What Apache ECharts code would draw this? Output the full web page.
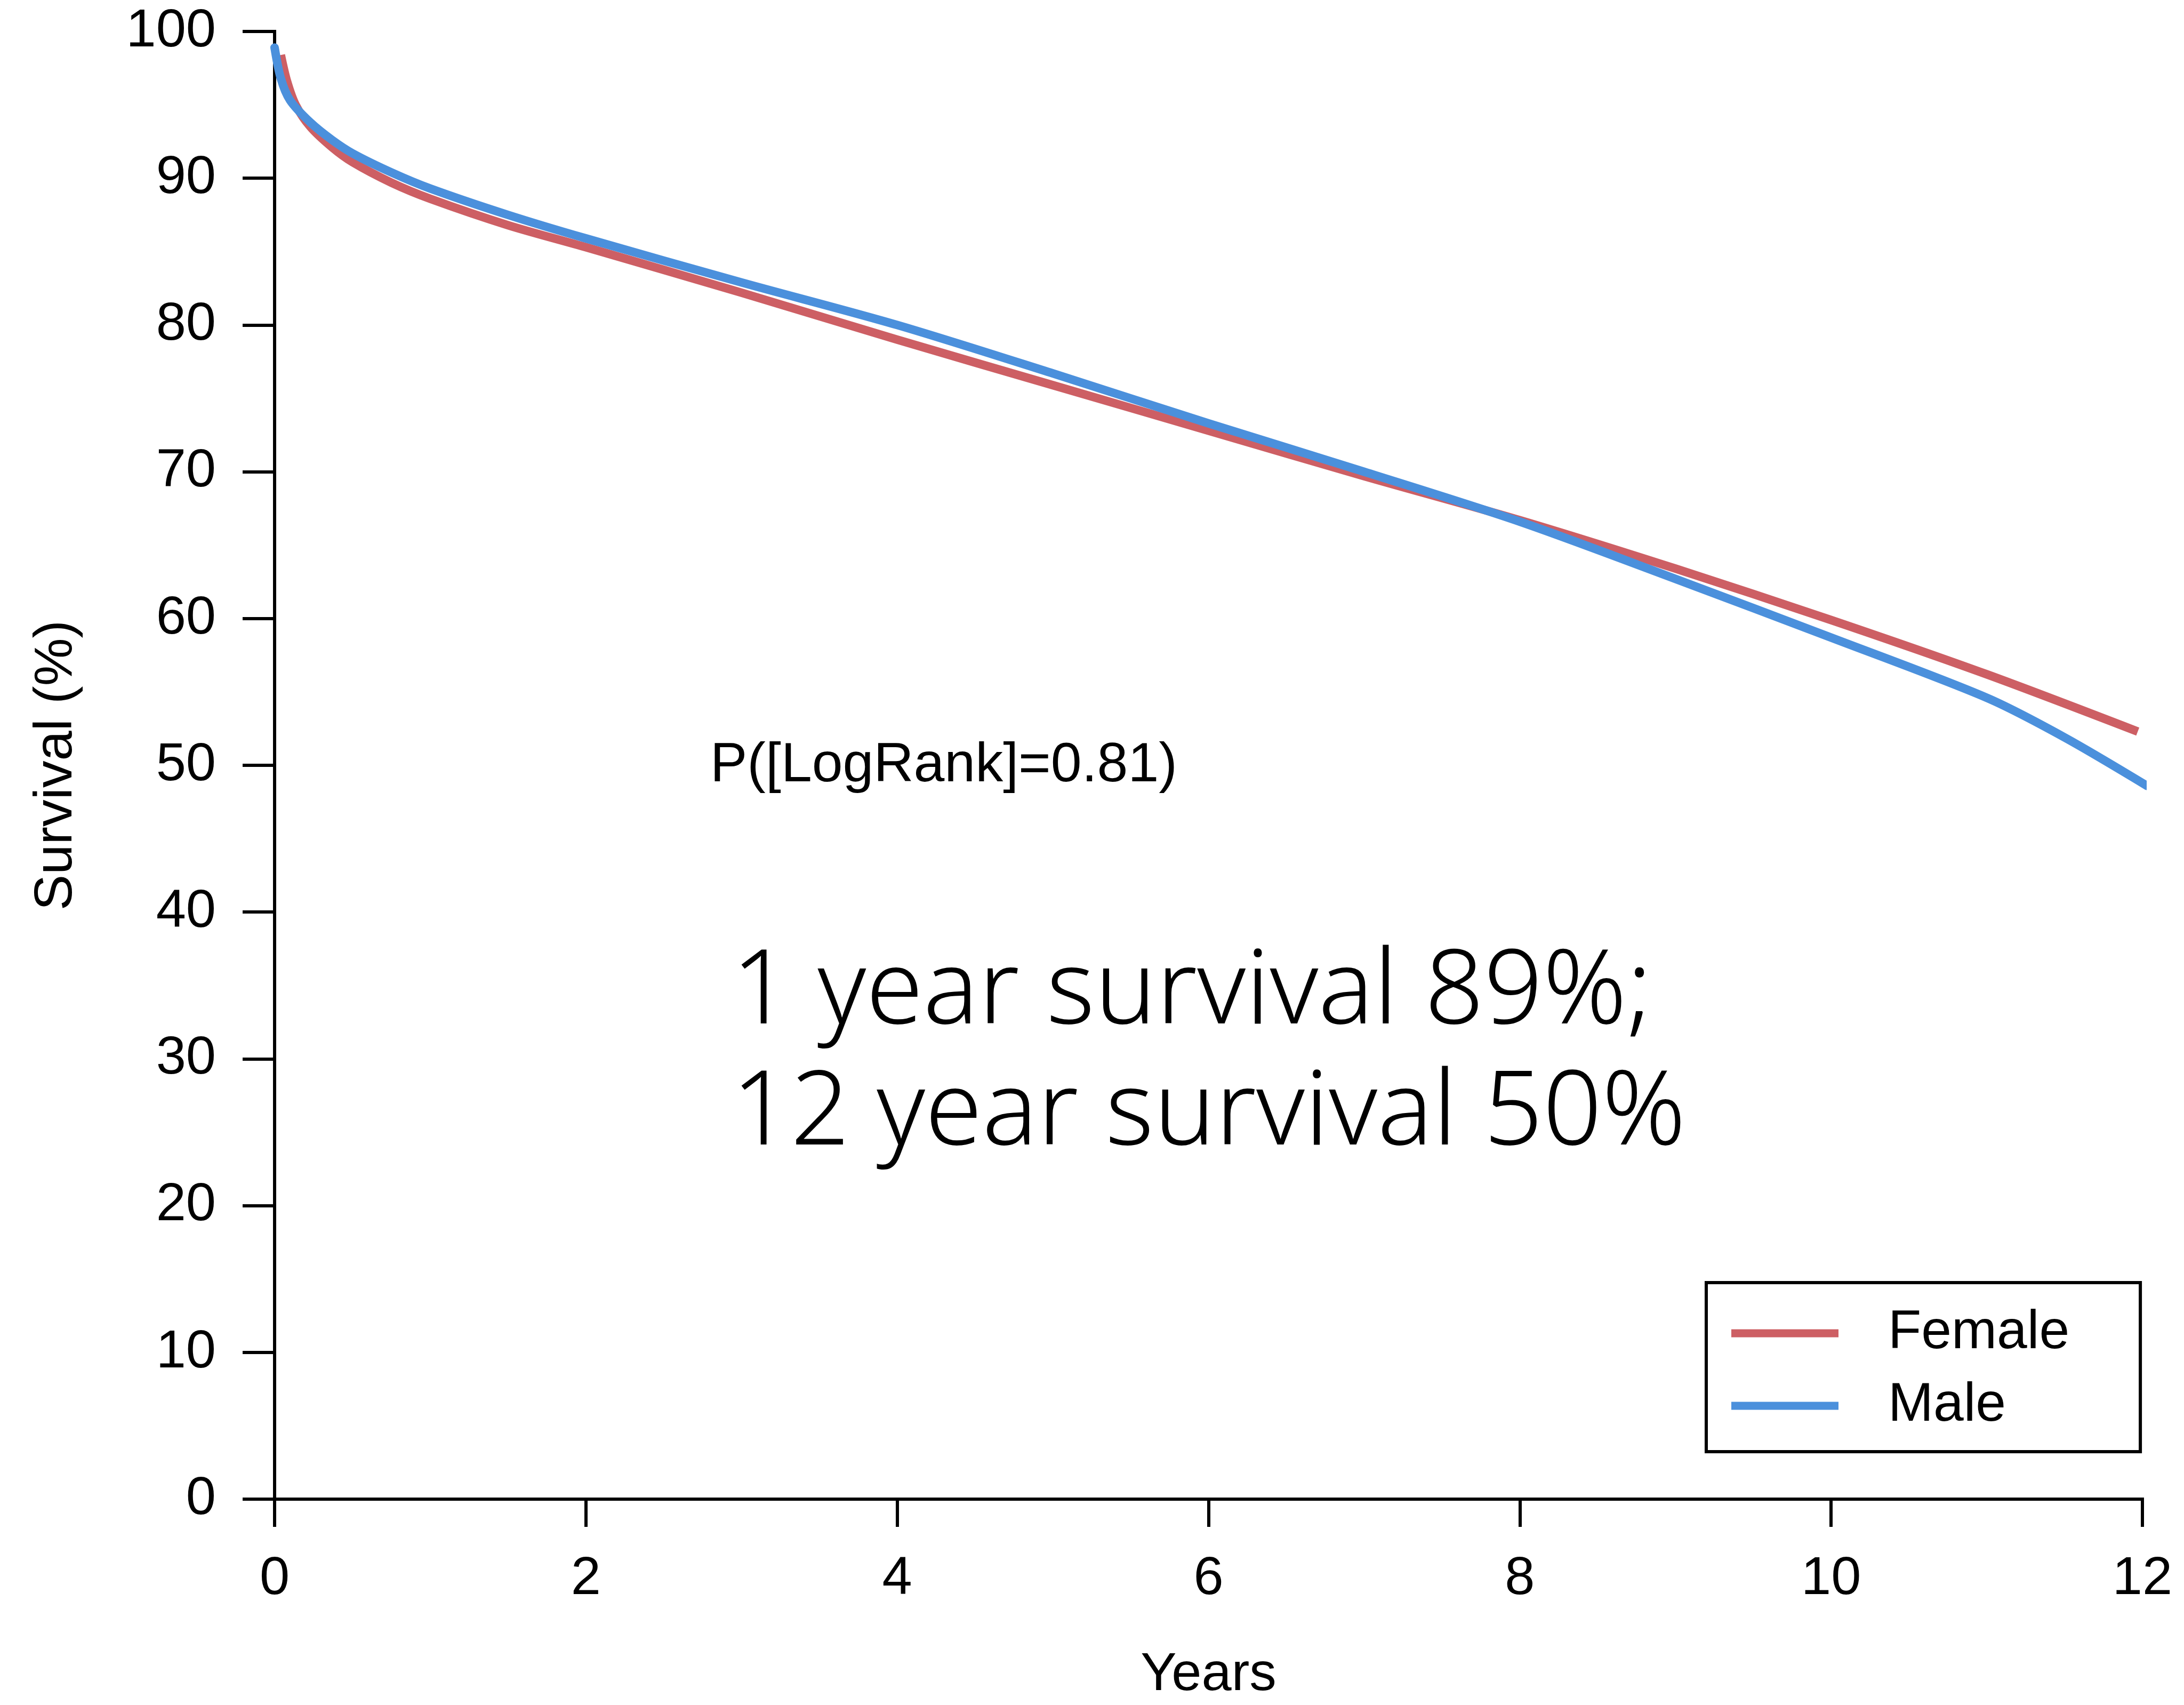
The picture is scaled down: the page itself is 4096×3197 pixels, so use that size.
<!DOCTYPE html>
<html>
<head>
<meta charset="utf-8">
<script src="https://cdn.jsdelivr.net/npm/echarts@6/dist/echarts.min.js"></script>
<style>
html,body{margin:0;padding:0;background:#fff;}
#chart{width:4096px;height:3197px;}
</style>
</head>
<body>
<div id="chart"></div>
<script>
// ---- data ----
const xTicks = [0, 2, 4, 6, 8, 10, 12];
const yTicks = [0, 10, 20, 30, 40, 50, 60, 70, 80, 90, 100];
const seriesNames = ['Female', 'Male'];
const femaleYears    = [0.04, 0.08, 0.135, 0.23, 0.37, 0.5, 0.75, 1, 1.5, 2, 3, 4, 5, 6, 7, 8, 9, 10, 11, 11.97];
const femaleSurvival = [98.4, 96.6, 95.0, 93.5, 92.1, 91.1, 89.7, 88.6, 86.8, 85.3, 82.2, 79.0, 75.9, 72.8, 69.7, 66.7, 63.4, 59.9, 56.2, 52.3];
const maleYears      = [0, 0.04, 0.1, 0.23, 0.37, 0.5, 0.75, 1, 1.5, 2, 3, 4, 5, 6, 7, 8, 9, 10, 11, 11.5, 12.03];
const maleSurvival   = [98.9, 96.8, 95.3, 93.8, 92.6, 91.7, 90.4, 89.3, 87.5, 85.9, 82.9, 80.0, 76.7, 73.3, 70.0, 66.6, 62.7, 58.7, 54.6, 51.9, 48.6];
const pValueText = 'P([LogRank]=0.81)';
const summaryText = ['1 year survival 89%;', '12 year survival 50%'];

// ---- chart ----
const HELV = '"Liberation Sans", Arial, Helvetica, sans-serif';
const LIGHT = '"Noto Sans", "Liberation Sans", sans-serif';
const RED = '#cd5f64';
const BLUE = '#4b90dc';
const zip = (xs, ys) => xs.map((x, i) => [x, ys[i]]);

const chart = echarts.init(document.getElementById('chart'), null, {renderer: 'canvas'});
chart.setOption({
  backgroundColor: '#ffffff',
  animation: false,
  grid: {left: 515, right: 78, top: 59, bottom: 374, containLabel: false},
  xAxis: {
    type: 'value', min: xTicks[0], max: xTicks[xTicks.length - 1], interval: 2,
    name: 'Years', nameLocation: 'middle', nameGap: 280,
    nameTextStyle: {fontFamily: HELV, fontSize: 101, color: '#000'},
    axisLine: {show: true, onZero: false, lineStyle: {color: '#000', width: 6, cap: 'square'}},
    axisTick: {show: true, length: 52, lineStyle: {color: '#000', width: 6}},
    axisLabel: {margin: 100, fontFamily: HELV, fontSize: 101, color: '#000'},
    splitLine: {show: false}
  },
  yAxis: {
    type: 'value', min: yTicks[0], max: yTicks[yTicks.length - 1], interval: 10,
    name: 'Survival (%)', nameLocation: 'middle', nameGap: 358, nameRotate: 90,
    nameTextStyle: {fontFamily: HELV, fontSize: 101, color: '#000'},
    axisLine: {show: true, onZero: false, lineStyle: {color: '#000', width: 6, cap: 'square'}},
    axisTick: {show: true, length: 60, lineStyle: {color: '#000', width: 6}},
    axisLabel: {margin: 110, fontFamily: HELV, fontSize: 101, color: '#000'},
    splitLine: {show: false}
  },
  legend: {
    show: true, orient: 'vertical', left: 3200, top: 2405,
    padding: [44, 133, 35, 47],
    borderColor: '#000', borderWidth: 6, backgroundColor: '#fff',
    icon: 'rect', itemWidth: 201, itemHeight: 15, itemGap: 34,
    textStyle: {fontFamily: HELV, fontSize: 102, lineHeight: 102, color: '#000', padding: [0, 0, 0, 88]},
    data: seriesNames
  },
  series: [
    {
      name: seriesNames[0], type: 'line', data: zip(femaleYears, femaleSurvival),
      showSymbol: false, symbol: 'none', smooth: 0.3,
      color: RED, itemStyle: {color: RED},
      lineStyle: {color: RED, width: 16, cap: 'butt', join: 'round'}, z: 3
    },
    {
      name: seriesNames[1], type: 'line', data: zip(maleYears, maleSurvival),
      showSymbol: false, symbol: 'none', smooth: 0.3,
      color: BLUE, itemStyle: {color: BLUE},
      lineStyle: {color: BLUE, width: 16, cap: 'round', join: 'round'}, z: 4
    }
  ],
  graphic: [
    {
      type: 'text', x: 1332, y: 1436, z: 10,
      style: {text: pValueText, fontFamily: HELV, fontSize: 104, fill: '#000', align: 'left', verticalAlign: 'middle'}
    },
    {
      type: 'text', x: 1372, y: 1750, z: 10,
      style: {text: summaryText.join('\n'), fontFamily: LIGHT, fontWeight: 300, fontSize: 194, lineHeight: 227, fill: '#000', align: 'left', verticalAlign: 'top'}
    }
  ]
});
</script>
</body>
</html>
